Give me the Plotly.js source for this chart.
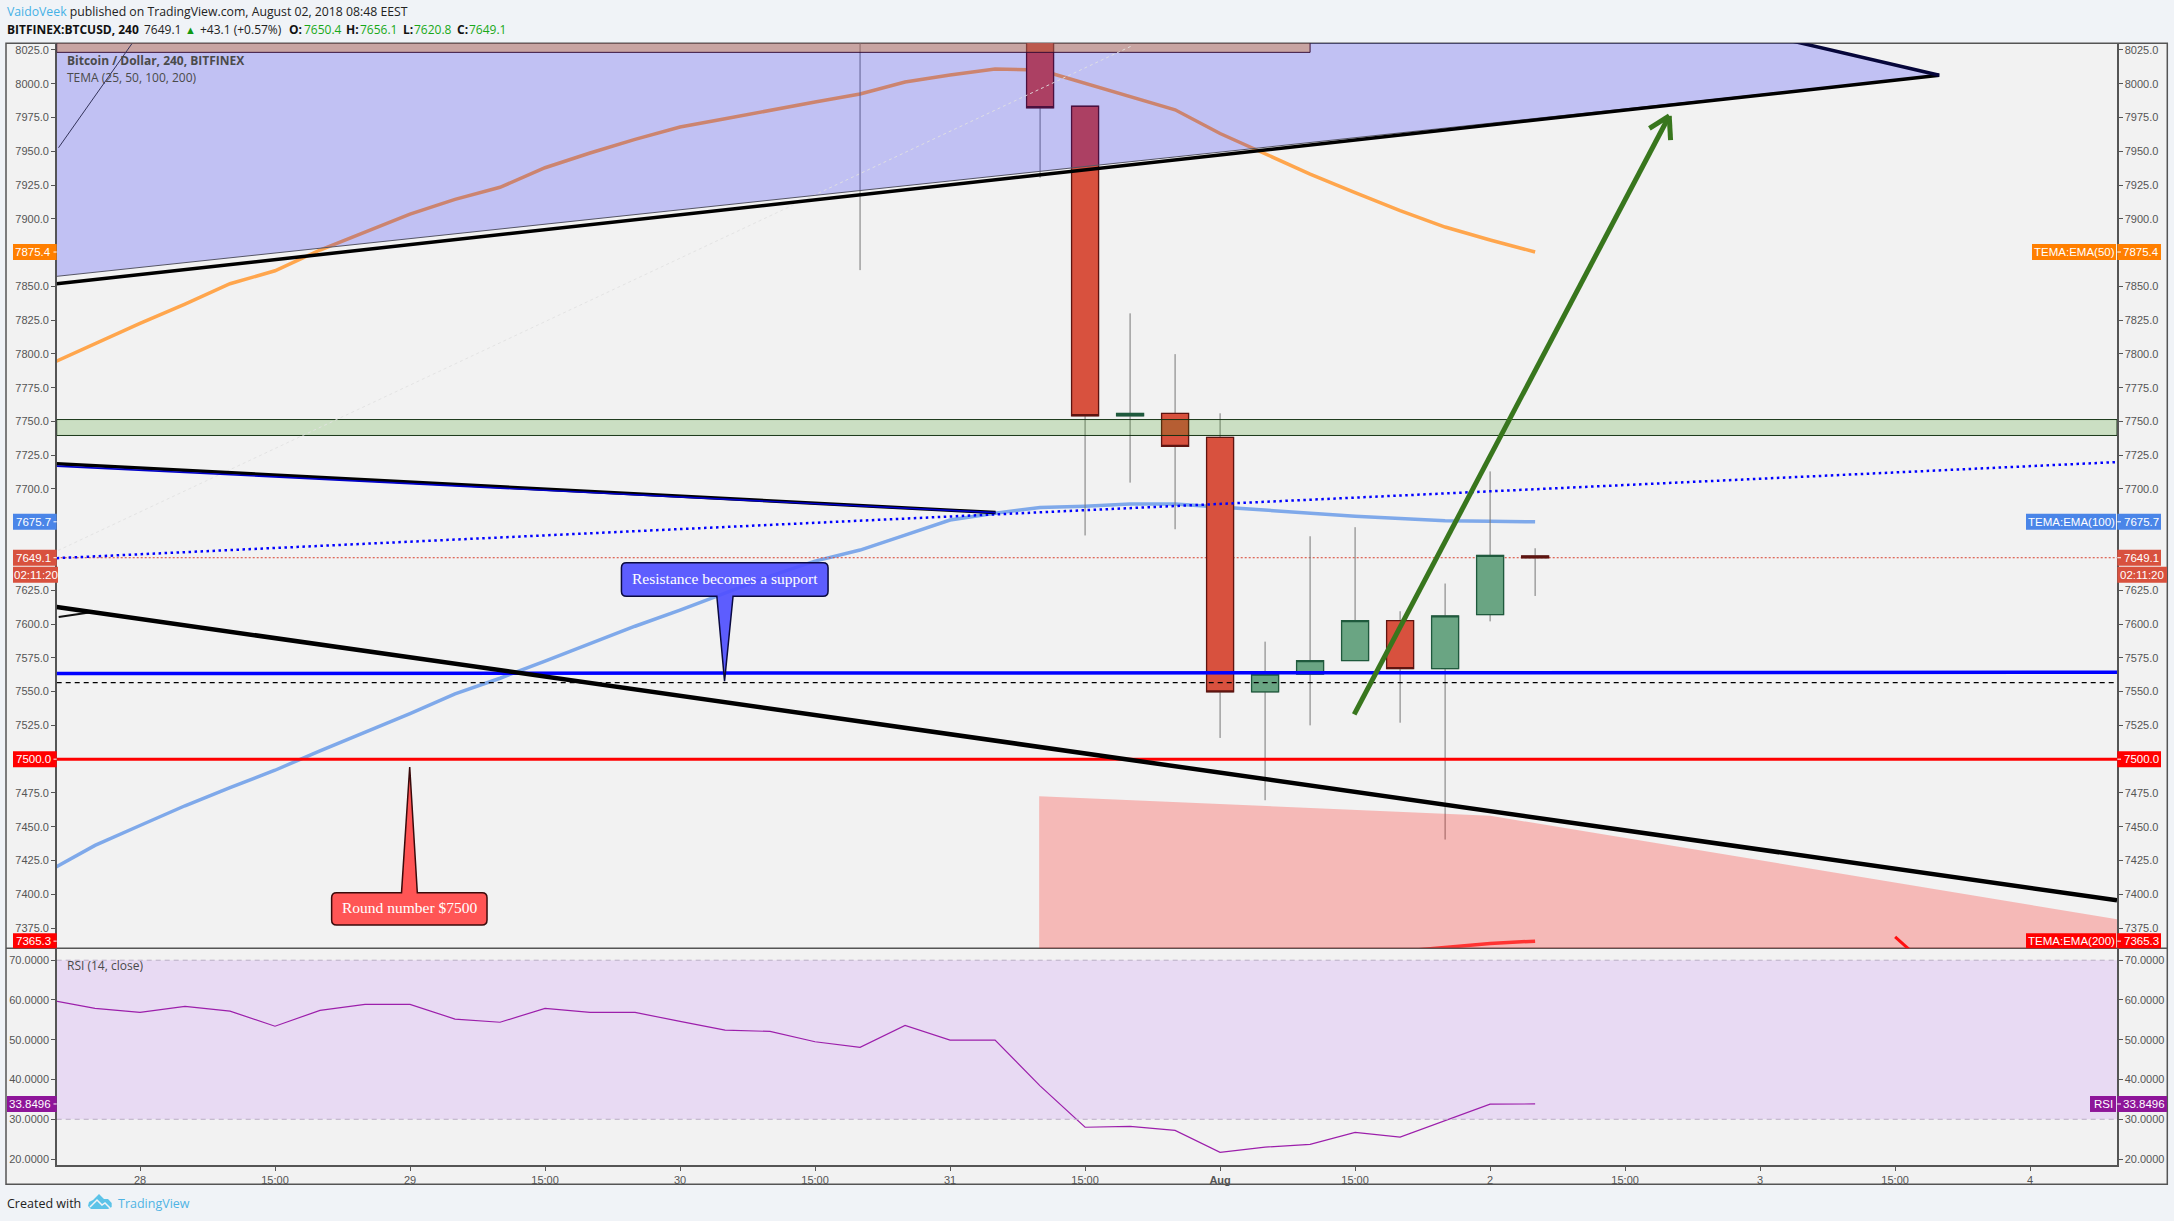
<!DOCTYPE html>
<html>
<head>
<meta charset="utf-8">
<title>BTCUSD</title>
<script src="https://cdn.plot.ly/plotly-3.0.1.min.js"></script>
<style>html,body{margin:0;padding:0;background:#f0f3f7}#chart{width:2174px;height:1221px}</style>
</head>
<body>
<div id="chart"></div>
<script>
// ---------- x axis: position is the 4h bar number, 0 = 28 July ----------
const xTickVals = [0,3,6,9,12,15,18,21,24,27,30,33,36,39,42];
const xTickText = ['28','15:00','29','15:00','30','15:00','31','15:00','<b>Aug</b>','15:00','2','15:00','3','15:00','4'];
const priceTicks = [7375,7400,7425,7450,7475,7500,7525,7550,7575,7600,7625,7650,7675,7700,7725,7750,7775,7800,7825,7850,7875,7900,7925,7950,7975,8000,8025];
const priceTicksUnderTags = [7500,7650,7675,7875];
const rsiTicks = [20,30,40,50,60,70];

// ---------- candles ----------
const candleBars  = [16,20,21,22,23,24,25,26,27,28,29,30,31];
const candleOpen  = [8160,8095,7983.3,7754.2,7755.9,7738.2,7549.8,7563,7573,7602.6,7567,7607,7650.4];
const candleHigh  = [8180,8110,7983.3,7830,7799.8,7756,7587,7665,7671.7,7609.5,7630,7713,7656.1];
const candleLow   = [7862,7930.4,7665.6,7704.7,7670.2,7515.7,7469.6,7525,7573,7527,7440.5,7602,7620.8];
const candleClose = [8120,7982.2,7754.2,7755.9,7731.5,7549.8,7563,7573,7602.6,7567,7606,7650.8,7649.1];

// ---------- indicator series ----------
const emaBars = [-2,-1,0,1,2,3,4,5,6,7,8,9,10,11,12,13,14,15,16,17,18,19,20,21,22,23,24,25,26,27,28,29,30,31];
const tema50  = [7792.4,7807.6,7822.6,7836.9,7851.9,7861.5,7876.9,7890.2,7903.5,7914.4,7923.3,7937.8,7948.7,7958.8,7967.9,7974.1,7980.5,7986.4,7992.4,8001.3,8006.4,8010.9,8010.1,8000.1,7990.4,7980.7,7963.1,7948.3,7933.1,7919.4,7906.1,7893.9,7884.3,7875.4];
const tema100 = [7417.7,7436.2,7450.9,7465.5,7478.9,7491.8,7506.2,7519.9,7533.8,7548.4,7559.9,7572.5,7585.8,7598.4,7610.3,7622.9,7635.5,7646.6,7654.8,7665.9,7677,7682.1,7686.2,7687.3,7688.8,7688.8,7686.5,7684.3,7681.9,7679.9,7678.2,7676.5,7676.2,7675.7];
const tema200Bars = [28,29,30,31];
const tema200 = [7357.7,7360.8,7363.6,7365.3];
const rsiValues = [60,57.9,56.9,58.4,57.2,53.4,57.4,58.9,58.9,55.2,54.4,57.9,56.9,56.9,54.6,52.4,52.1,49.5,48.1,53.6,49.9,49.9,38.4,28,28.2,27.2,21.7,23,23.7,26.7,25.5,29.7,33.8,33.8496];
const lastPrice = 7649.1;
const rsiBandLow = 30, rsiBandHigh = 70;

// ---------- axis extents ----------
const barRange   = [-1.851, 43.93];
const priceRange = [7360, 8029.9];
const rsiRange   = [18.5, 73];

// ---------- chart drawings, as [bar, price] anchors ----------
const wedgeTip      = [39.98, 8006.2];
const wedgeThinLeft = [-1.851, 7857.4];
const wedgeBlackLeft= [-1.851, 7851.9];
const wedgeTopStart = [35.98, 8037.3];
const wedgeTopLeft  = [-1.851, 8037.3];
const brownBand     = {bars:[-1.851,26], prices:[8023.2,8045]};
const greenBand     = {bars:[-1.851,43.93], prices:[7739.6,7751.4]};
const pinkZone      = [[19.98,7472.5],[30,7458.1],[43.93,7381.5],[43.93,7300],[19.98,7300]];
const supportLine   = [[-1.851,7563.4],[43.93,7564.3]];
const dashedLine    = [[-1.851,7556.7],[43.93,7556.7]];
const roundLine     = [[-1.851,7500],[43.93,7500]];
const dottedBlue    = [[-1.851,7648.8],[43.93,7719.9]];
const faintDotted   = [[-1.82,7654.5],[22.04,8028]];
const thinNavy      = [[-1.811,7952.6],[-0.18,8029.6]];
const upperBlack    = [[-1.851,7718.7],[19.01,7682.5]];
const upperBlue     = [[-1.851,7716.9],[19.01,7682.5]];
const mainBlack     = [[-1.851,7612.6],[43.93,7395.5]];
const shortBlack    = [[-1.807,7605.3],[-1.127,7608.6]];
const redStroke     = [[39,7368.5],[39.45,7355]];
const arrowLine     = [[26.98,7533.2],[33.98,7976.1]];
const arrowBarb1    = [[33.54,7967],[33.98,7976.1]];
const arrowBarb2    = [[34.01,7958.3],[33.98,7976.1]];
const calloutRed  = {bars:[4.258,7.711], prices:[7377.2,7401.2], base:[5.811,6.162], tip:[5.993,7494.2], text:'Round number $7500'};
const calloutBlue = {bars:[10.698,15.289], prices:[7620.6,7645.3], base:[12.818,13.178], tip:[12.989,7557.7], text:'Resistance becomes a support'};

// ---------- colours ----------
const bgPage='#f0f3f7', bgPane='#f2f2f2', axisCol='#555555', tickCol='#555555';
const candleUp='#6aa583', candleUpLine='#1f5a3d', candleDown='#d8513e', candleDownLine='#5e1410', wickCol='#777777';
const W=2174, H=1221;
const fx=x=>x/W, fy=y=>1-y/H;
const plotL=56.7, plotR=2117, mainT=43.3, mainB=948.3, rsiB=1165, frameL=6, frameR=2167.3, frameB=1184.3;

const emaLine=(x,y,c,w,axis)=>({type:'scatter',mode:'lines',x,y,xaxis:'x',yaxis:axis||'y',line:{color:c,width:w},hoverinfo:'skip'});
const levelX=[barRange[0],barRange[1],null,barRange[0],barRange[1]];
const levelY=[rsiBandHigh,rsiBandHigh,null,rsiBandLow,rsiBandLow];

const bodyHigh=candleOpen.map((o,i)=>Math.max(o,candleClose[i]));
const bodyLow =candleOpen.map((o,i)=>Math.min(o,candleClose[i]));

const traces=[
  emaLine(emaBars,tema50,'#ffa64d',3.5),
  emaLine(emaBars,tema100,'#7fa9ea',3.5),
  emaLine(tema200Bars,tema200,'#ff4040',3.5),
  {type:'scatter',mode:'lines',x:barRange,y:[lastPrice,lastPrice],xaxis:'x',yaxis:'y',line:{color:'#d8402e',width:1,dash:'2px,2px'},hoverinfo:'skip'},
  {type:'candlestick',x:candleBars,open:candleOpen,high:candleHigh,low:candleLow,close:candleClose,xaxis:'x',yaxis:'y2',whiskerwidth:0,
   increasing:{line:{color:wickCol,width:1},fillcolor:wickCol},decreasing:{line:{color:wickCol,width:1},fillcolor:wickCol},hoverinfo:'skip'},
  {type:'candlestick',x:candleBars,open:candleOpen,high:bodyHigh,low:bodyLow,close:candleClose,xaxis:'x',yaxis:'y2',whiskerwidth:0,
   increasing:{line:{color:candleUpLine,width:1.3},fillcolor:candleUp},decreasing:{line:{color:candleDownLine,width:1.3},fillcolor:candleDown},hoverinfo:'skip'},
  emaLine(emaBars,rsiValues,'#9c1fab',1.2,'y3'),
  {type:'scatter',mode:'lines',x:levelX,y:levelY,xaxis:'x',yaxis:'y4',line:{color:'#b9aec5',width:1,dash:'5px,4px'},hoverinfo:'skip'}
];

const poly=pts=>'M '+pts.map(p=>p[0]+' '+p[1]).join(' L ')+' Z';
const seg=(pts,col,w,dash)=>({type:'line',xref:'x',yref:'y',layer:'above',x0:pts[0][0],y0:pts[0][1],x1:pts[1][0],y1:pts[1][1],line:{color:col,width:w,dash:dash||'solid'}});
const rect=(b,fill,lineCol)=>({type:'rect',xref:'x',yref:'y',layer:'above',x0:b.bars[0],x1:b.bars[1],y0:b.prices[0],y1:b.prices[1],fillcolor:fill,line:{color:lineCol,width:1}});
function calloutPath(c){
  const rx=0.11, ry=3.7;
  const [l,r]=c.bars, [b,t]=c.prices;
  const baseOnTop=c.tip[1]>t;
  let d=`M ${l+rx} ${t} `;
  if(baseOnTop) d+=`L ${c.base[0]} ${t} L ${c.tip[0]} ${c.tip[1]} L ${c.base[1]} ${t} `;
  d+=`L ${r-rx} ${t} Q ${r} ${t} ${r} ${t-ry} L ${r} ${b+ry} Q ${r} ${b} ${r-rx} ${b} `;
  if(!baseOnTop) d+=`L ${c.base[1]} ${b} L ${c.tip[0]} ${c.tip[1]} L ${c.base[0]} ${b} `;
  d+=`L ${l+rx} ${b} Q ${l} ${b} ${l} ${b+ry} L ${l} ${t-ry} Q ${l} ${t} ${l+rx} ${t} Z`;
  return d;
}
const logoPx=[[88,1206],[89,1202],[93,1200],[99,1194],[104,1199],[108,1199],[111.7,1203],[111.7,1207],[108,1209],[91,1209]];
const logoZig=[[90,1207],[97,1200],[102,1205],[105,1203],[110,1208]];

const shapes=[
  {type:'rect',xref:'paper',yref:'paper',layer:'below',x0:fx(frameL),x1:fx(frameR),y0:fy(frameB),y1:fy(mainT),fillcolor:bgPane,line:{color:axisCol,width:1.5}},
  {type:'rect',xref:'x',yref:'y3',layer:'below',x0:barRange[0],x1:barRange[1],y0:rsiBandLow,y1:rsiBandHigh,fillcolor:'#e8daf3',line:{width:0}},
  {type:'line',xref:'paper',yref:'paper',layer:'above',x0:fx(frameL),x1:fx(frameR),y0:fy(mainB),y1:fy(mainB),line:{color:axisCol,width:1.5}},
  {type:'path',xref:'x',yref:'y',layer:'above',path:poly(pinkZone),fillcolor:'rgba(254,14,6,0.25)',line:{width:0}},
  {type:'path',xref:'x',yref:'y',layer:'above',path:poly([wedgeThinLeft,wedgeTip,wedgeTopStart,wedgeTopLeft]),fillcolor:'rgba(0,0,250,0.2)',line:{width:0}},
  rect(brownBand,'rgba(210,125,50,0.42)','rgba(50,10,50,0.95)'),
  rect(greenBand,'rgba(52,152,12,0.2)','rgba(15,45,15,0.95)'),
  seg(faintDotted,'rgba(225,225,225,0.9)',1,'dot'),
  seg(thinNavy,'#33335a',1),
  seg(shortBlack,'#111111',2),
  seg(supportLine,'#0000ff',3.5),
  seg(dashedLine,'#000000',1.2,'5px,4px'),
  seg(roundLine,'#ff0000',3),
  seg(dottedBlue,'#0000ff',2.5,'2.5px,3.5px'),
  seg([wedgeThinLeft,wedgeTip],'#555566',1),
  seg([wedgeBlackLeft,wedgeTip],'#000000',3.5),
  seg([wedgeTopStart,wedgeTip],'#06063a',3.5),
  seg(upperBlack,'#000000',3.5),
  seg(upperBlue,'#0000c8',1.6),
  seg(mainBlack,'#000000',4.5),
  seg(redStroke,'#ff1010',3),
  seg(arrowLine,'#38761d',5),
  seg(arrowBarb1,'#38761d',5),
  seg(arrowBarb2,'#38761d',5),
  {type:'path',xref:'x',yref:'y',layer:'above',path:calloutPath(calloutRed),fillcolor:'rgba(255,82,82,0.98)',line:{color:'#3a0a0a',width:1.5}},
  {type:'path',xref:'x',yref:'y',layer:'above',path:calloutPath(calloutBlue),fillcolor:'rgba(80,80,255,0.92)',line:{color:'#0a0a40',width:1.5}},
  {type:'path',xref:'paper',yref:'paper',layer:'above',path:poly(logoPx.map(p=>[fx(p[0]),fy(p[1])])),fillcolor:'#5cc3e8',line:{width:0}},
  {type:'path',xref:'paper',yref:'paper',layer:'above',path:'M '+logoZig.map(p=>fx(p[0])+' '+fy(p[1])).join(' L '),fillcolor:'rgba(0,0,0,0)',line:{color:bgPage,width:1.5}}
];

const uiFont='"Open Sans", sans-serif', tickFont='"Liberation Sans", Arial, sans-serif';
const txt=(px,py,text,size,col,extra)=>Object.assign({xref:'paper',yref:'paper',x:fx(px),y:fy(py),xanchor:'left',yanchor:'middle',text,showarrow:false,borderpad:0,font:{family:uiFont,size,color:col}},extra||{});
const g='#18a818';
const annotations=[
  txt(6,11.5,'<span style="color:#45b1e6">VaidoVeek</span> published on TradingView.com, August 02, 2018 08:48 EEST',12.25,'#222222'),
  txt(6,29.5,'<b>BITFINEX:BTCUSD, 240</b>',12,'#111111'),
  txt(143,29.5,'7649.1',12,'#222222'),
  txt(184,29,'▲',11,'#119911'),
  txt(199,29.5,'+43.1 (+0.57%)',12,'#222222'),
  txt(288,29.5,'<b>O:</b>',12,'#111111'),txt(303,29.5,'7650.4',12,g),
  txt(345,29.5,'<b>H:</b>',12,'#111111'),txt(359,29.5,'7656.1',12,g),
  txt(402,29.5,'<b>L:</b>',12,'#111111'),txt(413,29.5,'7620.8',12,g),
  txt(456,29.5,'<b>C:</b>',12,'#111111'),txt(468,29.5,'7649.1',12,g),
  txt(66,60.5,'<b>Bitcoin / Dollar, 240, BITFINEX</b>',12,'#4a4a4a'),
  txt(66,77.5,'TEMA (25, 50, 100, 200)',12,'#4a4a4a'),
  txt(66,965.5,'RSI (14, close)',12,'#4a4a4a'),
  txt(6,1203,'Created with',12.5,'#222222'),
  txt(117,1203,'TradingView',12.5,'#4fb3e4'),
  {xref:'x',yref:'y',x:(calloutRed.bars[0]+calloutRed.bars[1])/2,y:(calloutRed.prices[0]+calloutRed.prices[1])/2,yshift:1,text:calloutRed.text,showarrow:false,font:{family:'"Liberation Serif", serif',size:15.5,color:'#ffffff'}},
  {xref:'x',yref:'y',x:(calloutBlue.bars[0]+calloutBlue.bars[1])/2,y:(calloutBlue.prices[0]+calloutBlue.prices[1])/2,yshift:1,text:calloutBlue.text,showarrow:false,font:{family:'"Liberation Serif", serif',size:15.5,color:'#ffffff'}}
];

// price tags: a coloured box with a white tick, then its label
function addTag(left,right,yref,val,text,col,shift,tickFrom,tickTo){
  const s=shift||0;
  shapes.push({type:'rect',layer:'above',xref:'paper',yref:yref,ysizemode:'pixel',yanchor:val,x0:fx(left),x1:fx(right),y0:s-8,y1:s+8,fillcolor:col,line:{width:0}});
  if(tickFrom!==undefined){
    shapes.push({type:'line',layer:'above',xref:'paper',yref:yref,ysizemode:'pixel',yanchor:val,x0:fx(tickFrom),x1:fx(tickTo),y0:0,y1:0,line:{color:'#ffffff',width:1}});
  }
  const textRight = tickFrom!==undefined && tickFrom<left+ (right-left)/2 ? tickTo : left;
  annotations.push({xref:'paper',yref:yref,x:fx((textRight+(tickFrom!==undefined&&tickFrom>=left+(right-left)/2?tickFrom:right))/2),y:val,yshift:s,xanchor:'center',yanchor:'middle',text,showarrow:false,borderpad:0,font:{family:tickFont,size:11.5,color:'#ffffff'}});
}
const lt=(v,t,c,y)=>addTag(13,56.7,y||'y',v,t,c,0,53.5,56.7);
const rt=(v,t,c,y,r)=>addTag(2117.3,r||2161,y||'y',v,t,c,0,2117.3,2121);
lt(tema50[33],'7875.4','#ff7f00');
lt(tema100[33],'7675.7','#4a85e8');
lt(lastPrice,'7649.1','#d8513e');
addTag(13,58,'y',lastPrice,'02:11:20','#d8513e',-17);
lt(7500,'7500.0','#ff0000');
lt(tema200[3],'7365.3','#ff0000');
addTag(7,56.7,'y3',rsiValues[33],'33.8496','#8e1599',0,53.5,56.7);
rt(tema50[33],'7875.4','#ff7f00');
addTag(2032,2116,'y',tema50[33],'TEMA:EMA(50)','#ff7f00');
rt(tema100[33],'7675.7','#4a85e8');
addTag(2026,2116,'y',tema100[33],'TEMA:EMA(100)','#4a85e8');
rt(lastPrice,'7649.1','#d8513e');
addTag(2117.3,2167,'y',lastPrice,'02:11:20','#d8513e',-17);
rt(7500,'7500.0','#ff0000');
rt(tema200[3],'7365.3','#ff0000');
addTag(2026,2116,'y',tema200[3],'TEMA:EMA(200)','#ff0000');
rt(rsiValues[33],'33.8496','#8e1599','y3',2167);
addTag(2090,2116,'y3',rsiValues[33],'RSI','#8e1599');

const priceLabels=priceTicks.map(v=>priceTicksUnderTags.includes(v)?'':v.toFixed(1));
const yCommon={showgrid:false,zeroline:false,showline:true,linecolor:axisCol,linewidth:1.5,ticks:'outside',ticklen:4,tickcolor:tickCol,tickfont:{family:tickFont,size:11,color:tickCol},fixedrange:true};
const mainDomain=[fy(mainB),fy(mainT)], rsiDomain=[fy(rsiB),fy(mainB)];
const layout={
  width:W,height:H,margin:{l:0,r:0,t:0,b:0,pad:0},paper_bgcolor:bgPage,plot_bgcolor:'rgba(0,0,0,0)',showlegend:false,boxmode:'overlay',boxgap:0.4,boxgroupgap:0,
  xaxis:{type:'linear',domain:[fx(plotL),fx(plotR)],range:barRange,anchor:'y3',tickmode:'array',tickvals:xTickVals,ticktext:xTickText,showgrid:false,zeroline:false,showline:true,linecolor:axisCol,linewidth:1.5,ticks:'outside',ticklen:4,tickcolor:tickCol,tickfont:{family:tickFont,size:11,color:tickCol},rangeslider:{visible:false},fixedrange:true},
  yaxis: Object.assign({},yCommon,{domain:mainDomain,range:priceRange,anchor:'x',side:'left',tickmode:'array',tickvals:priceTicks,ticktext:priceLabels}),
  yaxis2:Object.assign({},yCommon,{domain:mainDomain,range:priceRange,anchor:'x',side:'right',overlaying:'y',tickmode:'array',tickvals:priceTicks,ticktext:priceLabels}),
  yaxis3:Object.assign({},yCommon,{domain:rsiDomain,range:rsiRange,anchor:'x',side:'left',tickmode:'array',tickvals:rsiTicks,ticktext:rsiTicks.map(v=>v.toFixed(4))}),
  yaxis4:Object.assign({},yCommon,{domain:rsiDomain,range:rsiRange,anchor:'x',side:'right',overlaying:'y3',tickmode:'array',tickvals:rsiTicks,ticktext:rsiTicks.map(v=>v.toFixed(4))}),
  shapes,annotations,hovermode:false
};
Plotly.newPlot('chart',traces,layout,{displayModeBar:false,staticPlot:true});
</script>
</body>
</html>
